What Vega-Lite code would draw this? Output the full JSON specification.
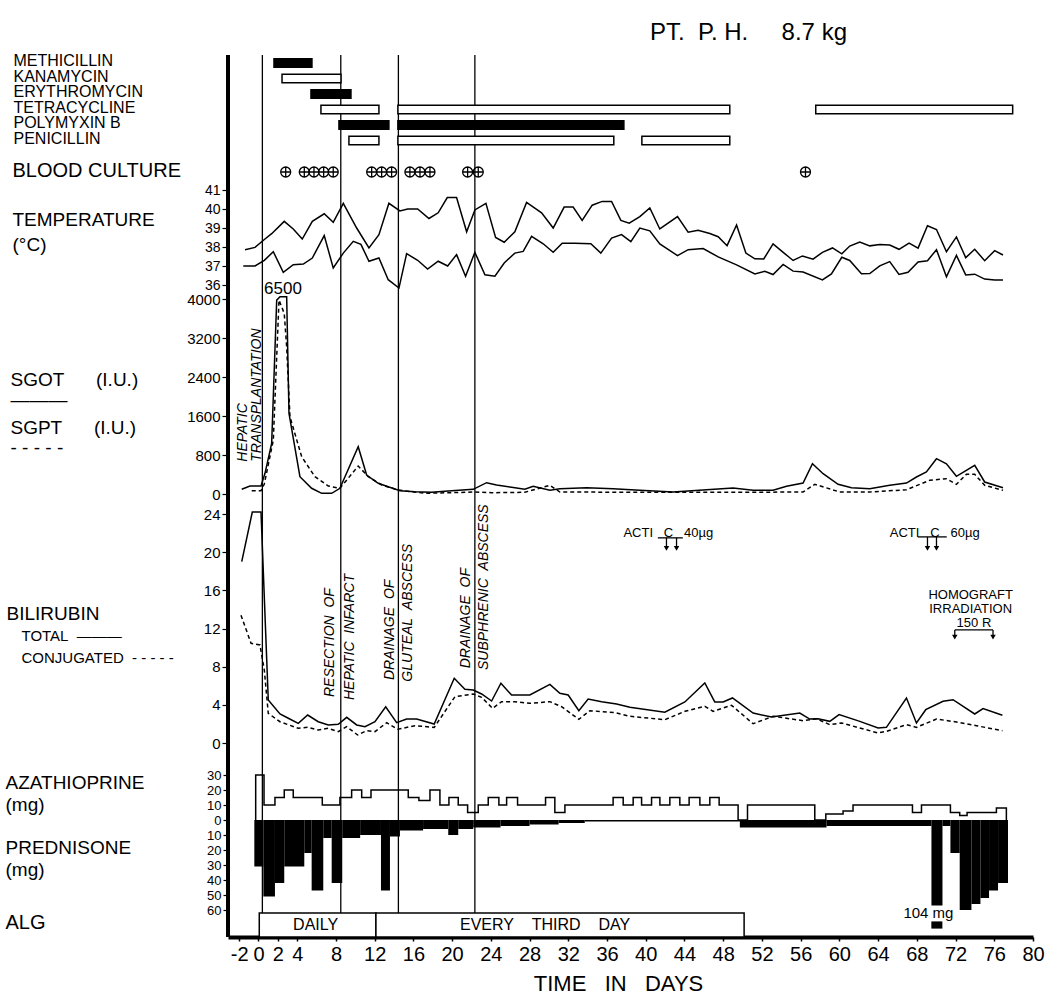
{
  "$schema": "https://vega.github.io/schema/vega-lite/v6.json",
  "width": 805,
  "height": 882,
  "autosize": {"type": "none"},
  "padding": {"left": 228, "top": 55, "right": 17, "bottom": 62},
  "background": "white",
  "title": {"text": "PT.\u00a0\u00a0P.\u00a0H.\u00a0\u00a0\u00a0\u00a0\u00a08.7\u00a0kg", "fontSize": 24, "fontWeight": "normal", "font": "Liberation Sans", "color": "black", "anchor": "start", "frame": "group", "dx": 422, "offset": 8},
  "config": {
    "view": {"stroke": null},
    "font": "Liberation Sans",
    "axis": {"grid": false, "domainColor": "black", "tickColor": "black", "labelColor": "black", "titleColor": "black", "labelFont": "Liberation Sans", "titleFont": "Liberation Sans", "titleFontWeight": "normal", "labelLimit": 400, "titleLimit": 600, "labelOverlap": false, "labelBound": false},
    "text": {"color": "black", "font": "Liberation Sans"}
  },
  "datasets": {
    "events": [
      {"day": 0.4, "event": "HEPATIC TRANSPLANTATION"},
      {"day": 8.5, "event": "RESECTION OF HEPATIC INFARCT"},
      {"day": 14.45, "event": "DRAINAGE OF GLUTEAL ABSCESS"},
      {"day": 22.35, "event": "DRAINAGE OF SUBPHRENIC ABSCESS"}
    ],
    "antibiotics": [
      {"drug": "METHICILLIN", "day": 1.6, "end": 5.52, "bar": "filled"},
      {"drug": "KANAMYCIN", "day": 2.43, "end": 8.52, "bar": "open"},
      {"drug": "ERYTHROMYCIN", "day": 5.42, "end": 9.55, "bar": "filled"},
      {"drug": "TETRACYCLINE", "day": 6.45, "end": 12.44, "bar": "open"},
      {"drug": "TETRACYCLINE", "day": 14.4, "end": 48.68, "bar": "open"},
      {"drug": "TETRACYCLINE", "day": 57.56, "end": 77.9, "bar": "open"},
      {"drug": "POLYMYXIN B", "day": 8.31, "end": 13.47, "bar": "filled"},
      {"drug": "POLYMYXIN B", "day": 14.4, "end": 37.74, "bar": "filled"},
      {"drug": "PENICILLIN", "day": 9.34, "end": 12.44, "bar": "open"},
      {"drug": "PENICILLIN", "day": 14.4, "end": 36.7, "bar": "open"},
      {"drug": "PENICILLIN", "day": 39.6, "end": 48.68, "bar": "open"}
    ],
    "culture": [
      {"day": 2.81, "row": "BLOOD CULTURE", "result": "positive"},
      {"day": 4.73, "row": "BLOOD CULTURE", "result": "positive"},
      {"day": 5.73, "row": "BLOOD CULTURE", "result": "positive"},
      {"day": 6.73, "row": "BLOOD CULTURE", "result": "positive"},
      {"day": 7.72, "row": "BLOOD CULTURE", "result": "positive"},
      {"day": 11.69, "row": "BLOOD CULTURE", "result": "positive"},
      {"day": 12.72, "row": "BLOOD CULTURE", "result": "positive"},
      {"day": 13.75, "row": "BLOOD CULTURE", "result": "positive"},
      {"day": 15.64, "row": "BLOOD CULTURE", "result": "positive"},
      {"day": 16.68, "row": "BLOOD CULTURE", "result": "positive"},
      {"day": 17.71, "row": "BLOOD CULTURE", "result": "positive"},
      {"day": 21.6, "row": "BLOOD CULTURE", "result": "positive"},
      {"day": 22.7, "row": "BLOOD CULTURE", "result": "positive"},
      {"day": 56.5, "row": "BLOOD CULTURE", "result": "positive"}
    ],
    "temperature": [
      {"day": -1.39, "temp": 37.86, "series": "max"}, {"day": -0.36, "temp": 37.98, "series": "max"}, {"day": 0.67, "temp": 38.42, "series": "max"}, {"day": 1.36, "temp": 38.7, "series": "max"}, {"day": 2.66, "temp": 39.35, "series": "max"}, {"day": 3.59, "temp": 38.95, "series": "max"}, {"day": 4.52, "temp": 38.42, "series": "max"}, {"day": 5.56, "temp": 39.35, "series": "max"}, {"day": 6.79, "temp": 39.75, "series": "max"}, {"day": 7.72, "temp": 39.3, "series": "max"}, {"day": 8.76, "temp": 40.3, "series": "max"}, {"day": 10.14, "temp": 39.0, "series": "max"}, {"day": 11.41, "temp": 37.95, "series": "max"}, {"day": 12.44, "temp": 38.65, "series": "max"}, {"day": 13.47, "temp": 40.3, "series": "max"}, {"day": 14.61, "temp": 39.9, "series": "max"}, {"day": 15.41, "temp": 40.0, "series": "max"}, {"day": 16.44, "temp": 40.0, "series": "max"}, {"day": 17.61, "temp": 39.5, "series": "max"}, {"day": 18.56, "temp": 39.8, "series": "max"}, {"day": 19.5, "temp": 40.6, "series": "max"}, {"day": 20.46, "temp": 40.6, "series": "max"}, {"day": 21.5, "temp": 38.8, "series": "max"}, {"day": 22.35, "temp": 39.95, "series": "max"}, {"day": 23.49, "temp": 40.3, "series": "max"}, {"day": 24.49, "temp": 38.5, "series": "max"}, {"day": 25.38, "temp": 38.25, "series": "max"}, {"day": 26.48, "temp": 38.8, "series": "max"}, {"day": 27.69, "temp": 40.35, "series": "max"}, {"day": 29.24, "temp": 39.8, "series": "max"}, {"day": 30.44, "temp": 39.0, "series": "max"}, {"day": 31.57, "temp": 40.1, "series": "max"}, {"day": 32.5, "temp": 40.1, "series": "max"}, {"day": 33.43, "temp": 39.4, "series": "max"}, {"day": 34.47, "temp": 40.2, "series": "max"}, {"day": 35.5, "temp": 40.4, "series": "max"}, {"day": 36.47, "temp": 40.4, "series": "max"}, {"day": 37.43, "temp": 39.4, "series": "max"}, {"day": 38.29, "temp": 39.25, "series": "max"}, {"day": 39.39, "temp": 39.6, "series": "max"}, {"day": 40.42, "temp": 40.05, "series": "max"}, {"day": 41.45, "temp": 38.95, "series": "max"}, {"day": 43.28, "temp": 39.6, "series": "max"}, {"day": 44.38, "temp": 38.78, "series": "max"}, {"day": 45.41, "temp": 38.88, "series": "max"}, {"day": 46.62, "temp": 38.71, "series": "max"}, {"day": 47.48, "temp": 38.54, "series": "max"}, {"day": 48.4, "temp": 38.07, "series": "max"}, {"day": 49.38, "temp": 39.16, "series": "max"}, {"day": 50.34, "temp": 37.68, "series": "max"}, {"day": 51.27, "temp": 37.38, "series": "max"}, {"day": 52.19, "temp": 37.37, "series": "max"}, {"day": 53.15, "temp": 38.16, "series": "max"}, {"day": 54.26, "temp": 37.69, "series": "max"}, {"day": 55.22, "temp": 37.29, "series": "max"}, {"day": 56.19, "temp": 37.53, "series": "max"}, {"day": 57.28, "temp": 37.36, "series": "max"}, {"day": 58.25, "temp": 37.72, "series": "max"}, {"day": 59.29, "temp": 37.95, "series": "max"}, {"day": 60.25, "temp": 37.64, "series": "max"}, {"day": 61.07, "temp": 38.05, "series": "max"}, {"day": 62.11, "temp": 38.26, "series": "max"}, {"day": 63.14, "temp": 38.06, "series": "max"}, {"day": 64.17, "temp": 38.13, "series": "max"}, {"day": 65.2, "temp": 38.1, "series": "max"}, {"day": 66.16, "temp": 37.88, "series": "max"}, {"day": 67.2, "temp": 38.2, "series": "max"}, {"day": 68.13, "temp": 37.94, "series": "max"}, {"day": 69.1, "temp": 39.12, "series": "max"}, {"day": 70.03, "temp": 38.92, "series": "max"}, {"day": 71.06, "temp": 37.75, "series": "max"}, {"day": 72.09, "temp": 38.53, "series": "max"}, {"day": 73.05, "temp": 37.44, "series": "max"}, {"day": 73.98, "temp": 37.88, "series": "max"}, {"day": 75.01, "temp": 37.28, "series": "max"}, {"day": 76.04, "temp": 37.81, "series": "max"}, {"day": 76.9, "temp": 37.58, "series": "max"},
      {"day": -1.57, "temp": 37.0, "series": "min"}, {"day": -0.36, "temp": 37.0, "series": "min"}, {"day": 0.6, "temp": 37.3, "series": "min"}, {"day": 1.53, "temp": 37.75, "series": "min"}, {"day": 2.56, "temp": 36.67, "series": "min"}, {"day": 3.59, "temp": 37.07, "series": "min"}, {"day": 4.63, "temp": 37.1, "series": "min"}, {"day": 5.56, "temp": 37.42, "series": "min"}, {"day": 6.79, "temp": 38.6, "series": "min"}, {"day": 7.72, "temp": 36.9, "series": "min"}, {"day": 8.76, "temp": 37.68, "series": "min"}, {"day": 9.79, "temp": 38.3, "series": "min"}, {"day": 10.58, "temp": 38.14, "series": "min"}, {"day": 11.41, "temp": 37.25, "series": "min"}, {"day": 12.44, "temp": 37.42, "series": "min"}, {"day": 13.4, "temp": 36.28, "series": "min"}, {"day": 14.51, "temp": 35.84, "series": "min"}, {"day": 15.3, "temp": 37.65, "series": "min"}, {"day": 16.44, "temp": 37.3, "series": "min"}, {"day": 17.47, "temp": 36.84, "series": "min"}, {"day": 18.56, "temp": 37.25, "series": "min"}, {"day": 19.54, "temp": 37.0, "series": "min"}, {"day": 20.46, "temp": 37.6, "series": "min"}, {"day": 21.39, "temp": 36.46, "series": "min"}, {"day": 22.35, "temp": 37.72, "series": "min"}, {"day": 23.39, "temp": 36.54, "series": "min"}, {"day": 24.42, "temp": 36.46, "series": "min"}, {"day": 25.38, "temp": 37.16, "series": "min"}, {"day": 26.48, "temp": 37.68, "series": "min"}, {"day": 27.34, "temp": 37.77, "series": "min"}, {"day": 28.21, "temp": 38.56, "series": "min"}, {"day": 29.41, "temp": 38.17, "series": "min"}, {"day": 30.44, "temp": 37.72, "series": "min"}, {"day": 31.37, "temp": 38.2, "series": "min"}, {"day": 32.68, "temp": 38.2, "series": "min"}, {"day": 34.33, "temp": 38.17, "series": "min"}, {"day": 35.36, "temp": 37.68, "series": "min"}, {"day": 36.47, "temp": 38.47, "series": "min"}, {"day": 37.5, "temp": 38.65, "series": "min"}, {"day": 38.46, "temp": 38.28, "series": "min"}, {"day": 39.39, "temp": 39.0, "series": "min"}, {"day": 40.42, "temp": 38.85, "series": "min"}, {"day": 41.45, "temp": 38.16, "series": "min"}, {"day": 43.28, "temp": 37.55, "series": "min"}, {"day": 44.38, "temp": 37.86, "series": "min"}, {"day": 45.93, "temp": 37.92, "series": "min"}, {"day": 47.48, "temp": 37.48, "series": "min"}, {"day": 49.38, "temp": 37.06, "series": "min"}, {"day": 51.27, "temp": 36.58, "series": "min"}, {"day": 52.3, "temp": 36.72, "series": "min"}, {"day": 53.15, "temp": 36.55, "series": "min"}, {"day": 54.19, "temp": 37.08, "series": "min"}, {"day": 55.22, "temp": 36.73, "series": "min"}, {"day": 56.25, "temp": 36.68, "series": "min"}, {"day": 58.25, "temp": 36.27, "series": "min"}, {"day": 59.18, "temp": 36.58, "series": "min"}, {"day": 60.25, "temp": 37.46, "series": "min"}, {"day": 61.07, "temp": 37.29, "series": "min"}, {"day": 62.28, "temp": 36.59, "series": "min"}, {"day": 63.14, "temp": 36.6, "series": "min"}, {"day": 64.17, "temp": 37.01, "series": "min"}, {"day": 65.2, "temp": 37.23, "series": "min"}, {"day": 66.16, "temp": 36.56, "series": "min"}, {"day": 67.09, "temp": 36.67, "series": "min"}, {"day": 68.13, "temp": 37.21, "series": "min"}, {"day": 69.1, "temp": 37.28, "series": "min"}, {"day": 70.03, "temp": 37.86, "series": "min"}, {"day": 71.06, "temp": 36.43, "series": "min"}, {"day": 72.09, "temp": 37.56, "series": "min"}, {"day": 73.05, "temp": 36.53, "series": "min"}, {"day": 73.98, "temp": 36.57, "series": "min"}, {"day": 75.01, "temp": 36.31, "series": "min"}, {"day": 76.04, "temp": 36.26, "series": "min"}, {"day": 76.9, "temp": 36.26, "series": "min"}
    ],
    "sgot": [
      {"day": -1.73, "sgot": 96}, {"day": -0.88, "sgot": 164}, {"day": 0.26, "sgot": 164}, {"day": 0.67, "sgot": 424}, {"day": 1.36, "sgot": 1040}, {"day": 1.88, "sgot": 3977}, {"day": 2.22, "sgot": 4045}, {"day": 2.91, "sgot": 4045}, {"day": 3.15, "sgot": 1654}, {"day": 4.28, "sgot": 355}, {"day": 5.49, "sgot": 117}, {"day": 6.53, "sgot": 14}, {"day": 7.56, "sgot": 14}, {"day": 8.41, "sgot": 117}, {"day": 10.3, "sgot": 970}, {"day": 11.17, "sgot": 390}, {"day": 12.37, "sgot": 219}, {"day": 13.4, "sgot": 150}, {"day": 14.61, "sgot": 68}, {"day": 16.16, "sgot": 47}, {"day": 17.88, "sgot": 35}, {"day": 19.95, "sgot": 68}, {"day": 22.18, "sgot": 96}, {"day": 23.56, "sgot": 232}, {"day": 24.59, "sgot": 185}, {"day": 26.14, "sgot": 137}, {"day": 27.51, "sgot": 96}, {"day": 28.37, "sgot": 158}, {"day": 30.1, "sgot": 76}, {"day": 31.13, "sgot": 109}, {"day": 33.89, "sgot": 130}, {"day": 36.63, "sgot": 109}, {"day": 39.39, "sgot": 76}, {"day": 42.83, "sgot": 41}, {"day": 46.28, "sgot": 88}, {"day": 49.02, "sgot": 123}, {"day": 51.09, "sgot": 76}, {"day": 53.15, "sgot": 76}, {"day": 54.54, "sgot": 158}, {"day": 56.25, "sgot": 225}, {"day": 57.22, "sgot": 621}, {"day": 58.32, "sgot": 416}, {"day": 59.87, "sgot": 199}, {"day": 61.25, "sgot": 129}, {"day": 63.14, "sgot": 109}, {"day": 65.2, "sgot": 178}, {"day": 66.93, "sgot": 225}, {"day": 67.96, "sgot": 349}, {"day": 68.99, "sgot": 451}, {"day": 70.03, "sgot": 724}, {"day": 71.06, "sgot": 621}, {"day": 72.09, "sgot": 363}, {"day": 73.98, "sgot": 588}, {"day": 75.01, "sgot": 246}, {"day": 76.9, "sgot": 129}
    ],
    "sgpt": [
      {"day": -0.7, "sgpt": 68}, {"day": 0.26, "sgpt": 68}, {"day": 0.6, "sgpt": 205}, {"day": 1.53, "sgpt": 1107}, {"day": 2.12, "sgpt": 3977}, {"day": 2.66, "sgpt": 3704}, {"day": 2.91, "sgpt": 3020}, {"day": 3.25, "sgpt": 1585}, {"day": 4.46, "sgpt": 765}, {"day": 5.83, "sgpt": 355}, {"day": 7.21, "sgpt": 164}, {"day": 8.41, "sgpt": 117}, {"day": 10.3, "sgpt": 574}, {"day": 11.34, "sgpt": 355}, {"day": 12.72, "sgpt": 185}, {"day": 14.43, "sgpt": 82}, {"day": 17.19, "sgpt": 14}, {"day": 19.95, "sgpt": 27}, {"day": 22.18, "sgpt": 41}, {"day": 24.08, "sgpt": 27}, {"day": 27.51, "sgpt": 35}, {"day": 30.1, "sgpt": 178}, {"day": 31.13, "sgpt": 41}, {"day": 40.4, "sgpt": 35}, {"day": 49.7, "sgpt": 35}, {"day": 56.25, "sgpt": 41}, {"day": 57.46, "sgpt": 199}, {"day": 60.04, "sgpt": 41}, {"day": 63.14, "sgpt": 41}, {"day": 66.93, "sgpt": 88}, {"day": 69.33, "sgpt": 280}, {"day": 71.06, "sgpt": 314}, {"day": 72.09, "sgpt": 199}, {"day": 73.12, "sgpt": 404}, {"day": 73.98, "sgpt": 404}, {"day": 75.01, "sgpt": 178}, {"day": 76.9, "sgpt": 76}
    ],
    "sgot_peak": [{"day": 2.53, "sgot": 4200, "label": "6500"}],
    "sgot_notes": [
      {"day": -1.57, "sgot": 662, "label": "HEPATIC"},
      {"day": -0.19, "sgot": 662, "label": "TRANSPLANTATION"}
    ],
    "bili_total": [
      {"day": -1.73, "total": 19.0}, {"day": -0.64, "total": 24.2}, {"day": 0.26, "total": 24.2}, {"day": 1.01, "total": 4.5}, {"day": 2.22, "total": 3.04}, {"day": 3.08, "total": 2.59}, {"day": 4.11, "total": 2.06}, {"day": 5.08, "total": 2.93}, {"day": 6.17, "total": 2.23}, {"day": 7.21, "total": 1.89}, {"day": 8.24, "total": 1.96}, {"day": 9.11, "total": 2.69}, {"day": 10.14, "total": 1.89}, {"day": 11.0, "total": 1.71}, {"day": 12.03, "total": 2.23}, {"day": 13.14, "total": 3.8}, {"day": 14.27, "total": 2.13}, {"day": 15.3, "total": 2.52}, {"day": 16.33, "total": 2.52}, {"day": 18.15, "total": 1.99}, {"day": 20.22, "total": 6.78}, {"day": 21.32, "total": 5.63}, {"day": 22.18, "total": 5.56}, {"day": 23.05, "total": 5.14}, {"day": 24.08, "total": 4.4}, {"day": 25.04, "total": 6.26}, {"day": 26.14, "total": 5.03}, {"day": 28.03, "total": 5.03}, {"day": 30.1, "total": 6.15}, {"day": 31.13, "total": 5.21}, {"day": 31.99, "total": 5.03}, {"day": 33.09, "total": 3.39}, {"day": 34.05, "total": 4.61}, {"day": 35.44, "total": 4.33}, {"day": 36.99, "total": 4.09}, {"day": 38.36, "total": 3.74}, {"day": 41.97, "total": 3.22}, {"day": 44.04, "total": 4.3}, {"day": 46.1, "total": 6.29}, {"day": 47.13, "total": 4.3}, {"day": 47.99, "total": 4.3}, {"day": 48.96, "total": 4.72}, {"day": 51.09, "total": 3.14}, {"day": 52.99, "total": 2.72}, {"day": 55.91, "total": 3.14}, {"day": 56.94, "total": 2.51}, {"day": 57.8, "total": 2.55}, {"day": 59.01, "total": 2.27}, {"day": 59.97, "total": 2.97}, {"day": 62.11, "total": 2.27}, {"day": 64.0, "total": 1.57}, {"day": 64.86, "total": 1.64}, {"day": 66.93, "total": 4.72}, {"day": 67.96, "total": 2.1}, {"day": 68.92, "total": 3.49}, {"day": 70.71, "total": 4.37}, {"day": 71.74, "total": 4.54}, {"day": 73.98, "total": 3.04}, {"day": 74.84, "total": 3.6}, {"day": 76.84, "total": 2.9}
    ],
    "bili_conj": [
      {"day": -1.81, "conj": 13.4}, {"day": -0.77, "conj": 10.45}, {"day": 0.15, "conj": 10.27}, {"day": 0.6, "conj": 7.65}, {"day": 1.01, "conj": 3.11}, {"day": 2.22, "conj": 2.23}, {"day": 4.11, "conj": 1.54}, {"day": 5.08, "conj": 1.64}, {"day": 6.17, "conj": 1.36}, {"day": 7.21, "conj": 1.54}, {"day": 8.24, "conj": 1.19}, {"day": 9.11, "conj": 1.71}, {"day": 10.24, "conj": 0.84}, {"day": 11.17, "conj": 1.29}, {"day": 12.03, "conj": 1.19}, {"day": 13.24, "conj": 2.13}, {"day": 14.37, "conj": 1.44}, {"day": 16.16, "conj": 1.81}, {"day": 18.15, "conj": 1.64}, {"day": 20.29, "conj": 4.85}, {"day": 22.18, "conj": 5.14}, {"day": 23.05, "conj": 4.79}, {"day": 24.18, "conj": 3.63}, {"day": 25.11, "conj": 4.33}, {"day": 26.48, "conj": 4.33}, {"day": 28.03, "conj": 4.16}, {"day": 30.1, "conj": 4.33}, {"day": 31.31, "conj": 3.8}, {"day": 33.09, "conj": 2.48}, {"day": 34.23, "conj": 3.39}, {"day": 36.81, "conj": 3.18}, {"day": 38.36, "conj": 2.8}, {"day": 41.97, "conj": 2.44}, {"day": 44.04, "conj": 3.32}, {"day": 46.1, "conj": 3.85}, {"day": 46.96, "conj": 3.32}, {"day": 48.86, "conj": 3.95}, {"day": 51.09, "conj": 2.02}, {"day": 53.15, "conj": 2.8}, {"day": 56.25, "conj": 2.34}, {"day": 57.63, "conj": 2.55}, {"day": 59.01, "conj": 1.92}, {"day": 60.22, "conj": 2.1}, {"day": 64.0, "conj": 1.05}, {"day": 64.86, "conj": 1.22}, {"day": 66.93, "conj": 1.92}, {"day": 67.96, "conj": 1.64}, {"day": 70.03, "conj": 2.51}, {"day": 72.09, "conj": 2.2}, {"day": 74.16, "conj": 1.81}, {"day": 76.84, "conj": 1.29}
    ],
    "bili_events": [
      {"day": 7.38, "v": 4.82, "label": "RESECTION\u00a0\u00a0OF"},
      {"day": 9.45, "v": 4.5, "label": "HEPATIC\u00a0\u00a0INFARCT"},
      {"day": 13.58, "v": 6.6, "label": "DRAINAGE\u00a0\u00a0OF"},
      {"day": 15.47, "v": 6.43, "label": "GLUTEAL\u00a0\u00a0ABSCESS"},
      {"day": 21.39, "v": 7.83, "label": "DRAINAGE\u00a0\u00a0OF"},
      {"day": 23.31, "v": 7.65, "label": "SUBPHRENIC\u00a0\u00a0ABSCESS"}
    ],
    "bili_notes": [
      {"day": 42.33, "v": 22.0, "label": "ACTI\u00a0\u00a0\u00a0C\u00a0\u00a0\u00a040µg"},
      {"day": 69.85, "v": 22.0, "label": "ACTI\u00a0\u00a0\u00a0C\u00a0\u00a0\u00a060µg"},
      {"day": 73.56, "v": 15.5, "label": "HOMOGRAFT"},
      {"day": 73.56, "v": 14.0, "label": "IRRADIATION"},
      {"day": 73.9, "v": 12.6, "label": "150 R"}
    ],
    "arrow_lines": [
      {"day": 41.25, "end": 43.83, "v": 21.5, "v2": 21.5},
      {"day": 42.14, "end": 42.14, "v": 21.5, "v2": 20.4},
      {"day": 43.18, "end": 43.18, "v": 21.5, "v2": 20.4},
      {"day": 68.1, "end": 71.09, "v": 21.6, "v2": 21.6},
      {"day": 69.1, "end": 69.1, "v": 21.6, "v2": 20.4},
      {"day": 70.03, "end": 70.03, "v": 21.6, "v2": 20.4},
      {"day": 71.92, "end": 75.87, "v": 11.85, "v2": 11.85},
      {"day": 71.92, "end": 71.92, "v": 11.85, "v2": 11.1},
      {"day": 75.87, "end": 75.87, "v": 11.85, "v2": 11.1}
    ],
    "arrow_heads": [
      {"day": 42.14, "v": 20.4}, {"day": 43.18, "v": 20.4},
      {"day": 69.1, "v": 20.4}, {"day": 70.03, "v": 20.4},
      {"day": 71.92, "v": 11.1}, {"day": 75.87, "v": 11.1}
    ],
    "azathioprine": [
      {"day": -0.3, "aza": 0}, {"day": -0.29, "aza": 30}, {"day": 0.57, "aza": 10}, {"day": 1.7, "aza": 15}, {"day": 2.66, "aza": 20}, {"day": 3.59, "aza": 15}, {"day": 6.59, "aza": 10}, {"day": 8.41, "aza": 15}, {"day": 9.62, "aza": 20}, {"day": 10.66, "aza": 15}, {"day": 11.62, "aza": 20}, {"day": 15.47, "aza": 15}, {"day": 16.57, "aza": 13}, {"day": 17.71, "aza": 20}, {"day": 18.74, "aza": 10}, {"day": 19.67, "aza": 15}, {"day": 20.63, "aza": 10}, {"day": 21.6, "aza": 5}, {"day": 22.7, "aza": 10}, {"day": 23.73, "aza": 15}, {"day": 24.83, "aza": 10}, {"day": 25.63, "aza": 15}, {"day": 26.76, "aza": 10}, {"day": 29.65, "aza": 15}, {"day": 30.61, "aza": 5}, {"day": 31.65, "aza": 10}, {"day": 36.63, "aza": 15}, {"day": 37.67, "aza": 10}, {"day": 38.7, "aza": 15}, {"day": 39.57, "aza": 10}, {"day": 40.6, "aza": 15}, {"day": 41.46, "aza": 10}, {"day": 42.49, "aza": 15}, {"day": 43.52, "aza": 10}, {"day": 44.48, "aza": 15}, {"day": 45.59, "aza": 10}, {"day": 46.62, "aza": 15}, {"day": 47.58, "aza": 10}, {"day": 49.54, "aza": 0}, {"day": 50.51, "aza": 10}, {"day": 57.46, "aza": 0}, {"day": 58.6, "aza": 4}, {"day": 60.38, "aza": 6}, {"day": 61.41, "aza": 10}, {"day": 67.55, "aza": 5}, {"day": 68.48, "aza": 10}, {"day": 71.47, "aza": 5}, {"day": 72.43, "aza": 3}, {"day": 73.19, "aza": 5}, {"day": 76.22, "aza": 8}, {"day": 77.25, "aza": 0}
    ],
    "prednisone": [
      {"day": -0.43, "end": 0.5, "pred": 31}, {"day": 0.5, "end": 1.7, "pred": 51}, {"day": 1.7, "end": 2.66, "pred": 42}, {"day": 2.66, "end": 4.73, "pred": 31}, {"day": 4.73, "end": 5.49, "pred": 22}, {"day": 5.49, "end": 6.69, "pred": 47}, {"day": 6.69, "end": 7.56, "pred": 12}, {"day": 7.56, "end": 8.65, "pred": 42}, {"day": 8.65, "end": 10.5, "pred": 12}, {"day": 10.5, "end": 12.65, "pred": 10}, {"day": 12.65, "end": 13.58, "pred": 47}, {"day": 13.58, "end": 14.61, "pred": 11}, {"day": 14.61, "end": 17, "pred": 7}, {"day": 17, "end": 19.6, "pred": 6}, {"day": 19.6, "end": 20.63, "pred": 10}, {"day": 20.63, "end": 22.18, "pred": 6}, {"day": 22.18, "end": 25, "pred": 5}, {"day": 25, "end": 28, "pred": 4}, {"day": 28, "end": 31, "pred": 3}, {"day": 31, "end": 33.7, "pred": 2}, {"day": 33.7, "end": 49.72, "pred": 1}, {"day": 49.72, "end": 58.67, "pred": 5}, {"day": 58.67, "end": 69.51, "pred": 4}, {"day": 69.51, "end": 70.65, "pred": 57}, {"day": 70.65, "end": 71.47, "pred": 4}, {"day": 71.47, "end": 72.43, "pred": 22}, {"day": 72.43, "end": 73.64, "pred": 60}, {"day": 73.64, "end": 74.57, "pred": 56}, {"day": 74.57, "end": 75.46, "pred": 52}, {"day": 75.46, "end": 76.39, "pred": 47}, {"day": 76.39, "end": 77.42, "pred": 42}
    ],
    "alg": [
      {"row": "ALG", "day": 0.08, "end": 12.13, "mid": 5.9, "label": "DAILY"},
      {"row": "ALG", "day": 12.13, "end": 50.16, "mid": 29.6, "label": "EVERY\u00a0\u00a0\u00a0\u00a0THIRD\u00a0\u00a0\u00a0\u00a0DAY"}
    ],
    "alg_dose": [
      {"row": "ALG", "day": 69.5, "end": 70.64, "mid": 69.2, "label": "104 mg"}
    ]
  },
  "encoding": {
    "x": {
      "field": "day", "type": "quantitative",
      "scale": {"domain": [-3.15, 80], "nice": false, "zero": false},
      "axis": {
        "title": "TIME\u00a0\u00a0\u00a0IN\u00a0\u00a0\u00a0DAYS",
        "values": [-2, 0, 2, 4, 8, 12, 16, 20, 24, 28, 32, 36, 40, 44, 48, 52, 56, 60, 64, 68, 72, 76, 80],
        "labelExpr": "datum.value < 0 ? '-' + abs(datum.value) : '' + datum.value",
        "labelFontSize": 20, "labelPadding": 3, "labelFlush": false,
        "tickSize": 4, "tickWidth": 1.5, "domainWidth": 4,
        "titleFontSize": 22, "titleX": 390, "titleY": 53, "titleBaseline": "alphabetic", "titleAlign": "center"
      }
    }
  },
  "layer": [
    {
      "data": {"name": "events"},
      "mark": {"type": "rule", "strokeWidth": 1.3, "color": "black"},
      "encoding": {}
    },
    {
      "data": {"values": [{"day": -3.15}]},
      "mark": {"type": "rule", "strokeWidth": 4, "color": "black"},
      "encoding": {}
    },
    {
      "data": {"name": "antibiotics"},
      "mark": {"type": "bar", "stroke": "black", "strokeWidth": 1.5},
      "encoding": {
        "x2": {"field": "end"},
        "y": {
          "field": "drug", "type": "nominal",
          "scale": {"type": "band", "domain": ["METHICILLIN", "KANAMYCIN", "ERYTHROMYCIN", "TETRACYCLINE", "POLYMYXIN B", "PENICILLIN"], "range": [0.25, 93.25], "paddingInner": 0.45, "paddingOuter": 0.225},
          "axis": {"orient": "left", "title": null, "ticks": false, "tickSize": 0, "domain": false, "labelAlign": "left", "labelBaseline": "middle", "labelPadding": 215, "labelFontSize": 16, "labelOffset": -2}
        },
        "fill": {"field": "bar", "type": "nominal", "scale": {"domain": ["filled", "open"], "range": ["black", "white"]}, "legend": null}
      }
    },
    {
      "data": {"name": "culture"},
      "mark": {"type": "point", "shape": "M-1,0A1,1 0 1,0 1,0A1,1 0 1,0 -1,0M-1,0L1,0M0,-1L0,1", "size": 100, "filled": false, "stroke": "black", "strokeWidth": 1.3, "opacity": 1},
      "encoding": {
        "y": {
          "field": "row", "type": "nominal",
          "scale": {"type": "point", "domain": ["BLOOD CULTURE"], "range": [105, 129], "padding": 0.5},
          "axis": {"orient": "left", "title": null, "ticks": false, "tickSize": 0, "domain": false, "labelAlign": "left", "labelBaseline": "middle", "labelPadding": 216, "labelFontSize": 20, "labelOffset": -2}
        }
      }
    },
    {
      "data": {"name": "temperature"},
      "layer": [
        {
          "mark": {"type": "line", "strokeWidth": 1.5, "color": "black"},
          "encoding": {
            "y": {
              "field": "temp", "type": "quantitative",
              "scale": {"domain": [36, 41], "range": [230, 135], "zero": false, "nice": false},
              "axis": {"orient": "left", "values": [36, 37, 38, 39, 40, 41], "format": "d", "labelFontSize": 14, "tickSize": 6, "tickWidth": 1.2, "labelPadding": 2, "domain": false,
                "title": ["TEMPERATURE", "(°C)"], "titleFontSize": 19, "titleAngle": 0, "titleAlign": "left", "titleBaseline": "top", "titleX": -216, "titleY": 155, "titleLineHeight": 25}
            },
            "detail": {"field": "series"}
          }
        },
        {
          "data": {"values": [{}]},
          "mark": {"type": "rule", "strokeWidth": 1.5, "color": "black"},
          "encoding": {"x": {"datum": -3.15}, "x2": {"datum": 79.35}, "y": {"datum": 37}}
        }
      ]
    },
    {
      "layer": [
        {
          "data": {"name": "sgot"},
          "mark": {"type": "line", "strokeWidth": 1.5, "color": "black"},
          "encoding": {
            "y": {
              "field": "sgot", "type": "quantitative",
              "scale": {"domain": [0, 4000], "range": [439, 244], "zero": false, "nice": false},
              "axis": {"orient": "left", "values": [0, 800, 1600, 2400, 3200, 4000], "format": "d", "labelFontSize": 15, "tickSize": 6, "tickWidth": 1.2, "labelPadding": 2, "domain": false,
                "title": ["SGOT\u00a0\u00a0\u00a0\u00a0\u00a0\u00a0(I.U.)", "\u00a0\u00a0\u00a0\u00a0\u00a0\u00a0\u00a0\u00a0\u00a0———"], "titleFontSize": 19, "titleAngle": 0, "titleAlign": "left", "titleBaseline": "top", "titleX": -218, "titleY": 315, "titleLineHeight": 20}
            }
          }
        },
        {
          "data": {"values": [{}]},
          "mark": {"type": "rule", "strokeWidth": 1.5, "color": "black"},
          "encoding": {"x": {"datum": -3.15}, "x2": {"datum": 79.35}, "y": {"datum": 0}}
        },
        {
          "data": {"name": "sgot_peak"},
          "mark": {"type": "text", "fontSize": 17, "align": "center", "baseline": "middle", "color": "black"},
          "encoding": {"y": {"field": "sgot", "type": "quantitative"}, "text": {"field": "label"}}
        },
        {
          "data": {"name": "sgot_notes"},
          "mark": {"type": "text", "fontSize": 14, "angle": 270, "align": "left", "baseline": "middle", "fontStyle": "italic", "color": "black"},
          "encoding": {"y": {"field": "sgot", "type": "quantitative"}, "text": {"field": "label"}}
        }
      ]
    },
    {
      "data": {"name": "sgpt"},
      "mark": {"type": "line", "strokeWidth": 1.5, "strokeDash": [4, 3], "color": "black"},
      "encoding": {
        "y": {
          "field": "sgpt", "type": "quantitative",
          "scale": {"domain": [0, 4000], "range": [439, 244], "zero": false, "nice": false},
          "axis": {"orient": "left", "labels": false, "ticks": false, "domain": false,
            "title": ["SGPT\u00a0\u00a0\u00a0\u00a0\u00a0\u00a0(I.U.)", "\u00a0\u00a0\u00a0\u00a0\u00a0\u00a0\u00a0\u00a0-\u00a0-\u00a0-\u00a0-\u00a0-"], "titleFontSize": 19, "titleAngle": 0, "titleAlign": "left", "titleBaseline": "top", "titleX": -218, "titleY": 363, "titleLineHeight": 20}
        }
      }
    },
    {
      "layer": [
        {
          "data": {"name": "bili_total"},
          "mark": {"type": "line", "strokeWidth": 1.5, "color": "black"},
          "encoding": {
            "y": {
              "field": "total", "type": "quantitative",
              "scale": {"domain": [0, 24], "range": [688, 459], "zero": false, "nice": false},
              "axis": {"orient": "left", "values": [0, 4, 8, 12, 16, 20, 24], "format": "d", "labelFontSize": 15, "tickSize": 6, "tickWidth": 1.2, "labelPadding": 2, "domain": false,
                "title": "BILIRUBIN", "titleFontSize": 19, "titleAngle": 0, "titleAlign": "left", "titleBaseline": "top", "titleX": -222, "titleY": 549}
            }
          }
        },
        {
          "data": {"values": [{}]},
          "mark": {"type": "rule", "strokeWidth": 1.5, "color": "black"},
          "encoding": {"x": {"datum": -3.15}, "x2": {"datum": 79.35}, "y": {"datum": 0}}
        },
        {
          "data": {"name": "bili_events"},
          "mark": {"type": "text", "fontSize": 14, "angle": 270, "align": "left", "baseline": "middle", "fontStyle": "italic", "color": "black"},
          "encoding": {"y": {"field": "v", "type": "quantitative"}, "text": {"field": "label"}}
        },
        {
          "data": {"name": "bili_notes"},
          "mark": {"type": "text", "fontSize": 13, "align": "center", "baseline": "middle", "color": "black"},
          "encoding": {"y": {"field": "v", "type": "quantitative"}, "text": {"field": "label"}}
        },
        {
          "data": {"name": "arrow_lines"},
          "mark": {"type": "rule", "strokeWidth": 1.3, "color": "black"},
          "encoding": {"x2": {"field": "end"}, "y": {"field": "v", "type": "quantitative"}, "y2": {"field": "v2"}}
        },
        {
          "data": {"name": "arrow_heads"},
          "mark": {"type": "point", "shape": "triangle-down", "size": 30, "filled": true, "color": "black", "opacity": 1},
          "encoding": {"y": {"field": "v", "type": "quantitative"}}
        }
      ]
    },
    {
      "data": {"name": "bili_conj"},
      "mark": {"type": "line", "strokeWidth": 1.5, "strokeDash": [4, 3], "color": "black"},
      "encoding": {
        "y": {
          "field": "conj", "type": "quantitative",
          "scale": {"domain": [0, 24], "range": [688, 459], "zero": false, "nice": false},
          "axis": {"orient": "left", "labels": false, "ticks": false, "domain": false,
            "title": ["TOTAL\u00a0\u00a0———", "CONJUGATED\u00a0\u00a0-\u00a0-\u00a0-\u00a0-\u00a0-"], "titleFontSize": 15, "titleAngle": 0, "titleAlign": "left", "titleBaseline": "top", "titleX": -207, "titleY": 573, "titleLineHeight": 22}
        }
      }
    },
    {
      "layer": [
        {
          "data": {"name": "azathioprine"},
          "mark": {"type": "line", "interpolate": "step-after", "strokeWidth": 1.5, "color": "black"},
          "encoding": {
            "y": {
              "field": "aza", "type": "quantitative",
              "scale": {"domain": [0, 30], "range": [765, 720], "zero": false, "nice": false},
              "axis": {"orient": "left", "values": [0, 10, 20, 30], "format": "d", "labelFontSize": 13, "tickSize": 5, "tickWidth": 1.2, "labelPadding": 2, "domain": false,
                "title": ["AZATHIOPRINE", "(mg)"], "titleFontSize": 19, "titleAngle": 0, "titleAlign": "left", "titleBaseline": "top", "titleX": -223, "titleY": 718, "titleLineHeight": 22}
            }
          }
        },
        {
          "data": {"values": [{}]},
          "mark": {"type": "rule", "strokeWidth": 1.5, "color": "black"},
          "encoding": {"x": {"datum": -3.15}, "x2": {"datum": 79.35}, "y": {"datum": 0}}
        }
      ]
    },
    {
      "data": {"name": "prednisone"},
      "mark": {"type": "bar", "color": "black"},
      "encoding": {
        "x2": {"field": "end"},
        "y": {
          "field": "pred", "type": "quantitative",
          "scale": {"domain": [0, 60], "range": [765, 855], "zero": true, "nice": false},
          "axis": {"orient": "left", "values": [10, 20, 30, 40, 50, 60], "format": "d", "labelFontSize": 13, "tickSize": 5, "tickWidth": 1.2, "labelPadding": 2, "domain": false,
            "title": ["PREDNISONE", "(mg)"], "titleFontSize": 19, "titleAngle": 0, "titleAlign": "left", "titleBaseline": "top", "titleX": -223, "titleY": 783, "titleLineHeight": 22}
        },
        "y2": {"datum": 0}
      }
    },
    {
      "layer": [
        {
          "data": {"name": "alg"},
          "mark": {"type": "bar", "fill": "white", "stroke": "black", "strokeWidth": 1.5},
          "encoding": {
            "x2": {"field": "end"},
            "y": {
              "field": "row", "type": "nominal",
              "scale": {"type": "band", "domain": ["ALG"], "range": [858, 882], "paddingInner": 0, "paddingOuter": 0},
              "axis": {"orient": "left", "title": null, "ticks": false, "tickSize": 0, "domain": false, "labelAlign": "left", "labelBaseline": "middle", "labelPadding": 223, "labelFontSize": 20, "labelOffset": -2}
            }
          }
        },
        {
          "data": {"name": "alg"},
          "mark": {"type": "text", "fontSize": 16, "align": "center", "baseline": "middle", "color": "black"},
          "encoding": {"x": {"field": "mid", "type": "quantitative"}, "y": {"field": "row", "type": "nominal"}, "text": {"field": "label"}}
        },
        {
          "data": {"name": "alg_dose"},
          "mark": {"type": "bar", "color": "black", "height": {"band": 0.3}},
          "encoding": {"x2": {"field": "end"}, "y": {"field": "row", "type": "nominal"}}
        },
        {
          "data": {"name": "alg_dose"},
          "mark": {"type": "text", "fontSize": 15, "align": "center", "baseline": "middle", "dy": -12, "color": "black"},
          "encoding": {"x": {"field": "mid", "type": "quantitative"}, "y": {"field": "row", "type": "nominal"}, "text": {"field": "label"}}
        }
      ]
    }
  ],
  "resolve": {"scale": {"y": "independent"}, "axis": {"y": "independent"}}
}
